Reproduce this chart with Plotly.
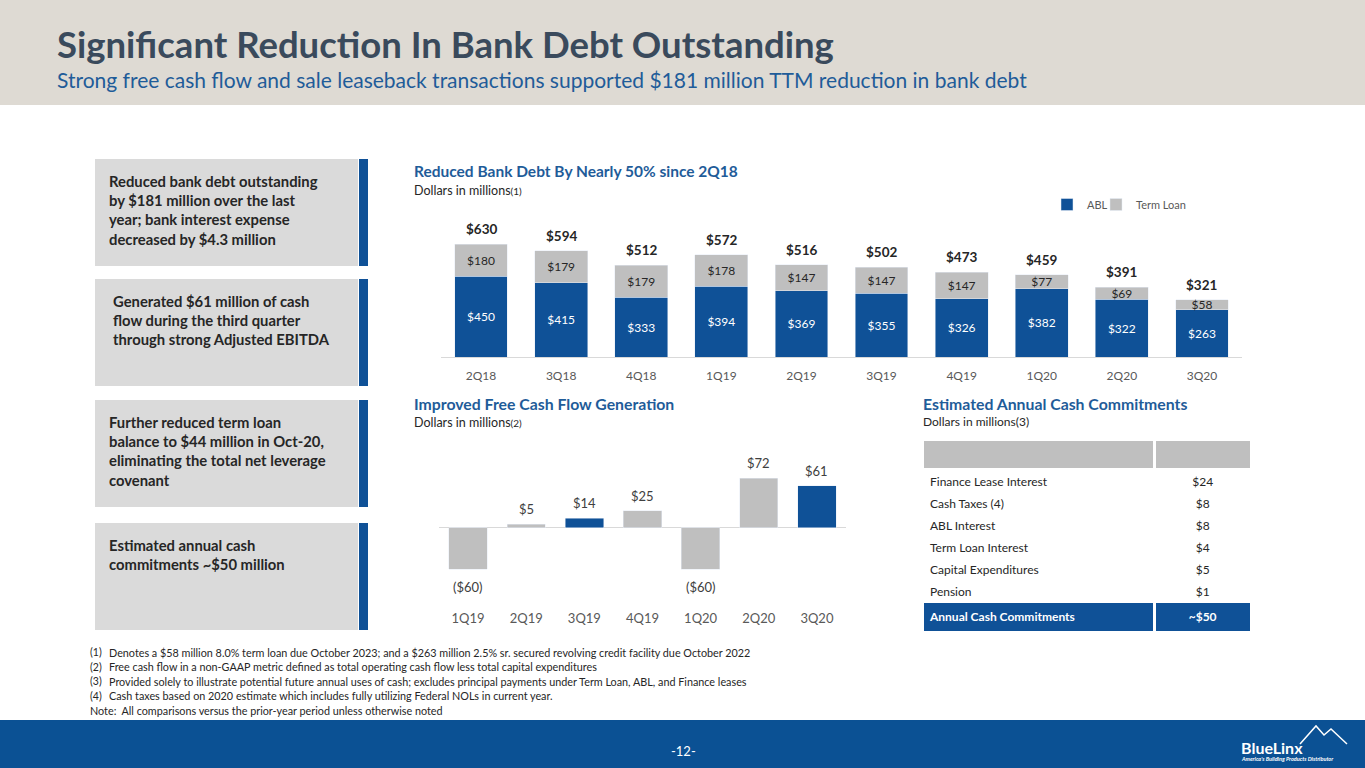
import plotly.graph_objects as go

W, H = 1365, 768

# Reduced bank debt (stacked)
quarters = ['2Q18', '3Q18', '4Q18', '1Q19', '2Q19', '3Q19', '4Q19', '1Q20', '2Q20', '3Q20']
abl = [450, 415, 333, 394, 369, 355, 326, 382, 322, 263]
term_loan = [180, 179, 179, 178, 147, 147, 147, 77, 69, 58]
totals = [630, 594, 512, 572, 516, 502, 473, 459, 391, 321]

# Free cash flow
fcf_quarters = ['1Q19', '2Q19', '3Q19', '4Q19', '1Q20', '2Q20', '3Q20']
fcf = [-60, 5, 14, 25, -60, 72, 61]
fcf_labels = ['($60)', '$5', '$14', '$25', '($60)', '$72', '$61']
fcf_highlight = ['3Q19', '3Q20']

# Annual cash commitments
commit_items = ['Finance Lease Interest', 'Cash Taxes (4)', 'ABL Interest',
                'Term Loan Interest', 'Capital Expenditures', 'Pension']
commit_values = ['$24', '$8', '$8', '$4', '$5', '$1']
commit_total_label = 'Annual Cash Commitments'
commit_total_value = '~$50'

# Left side call-outs
callouts = [
    'Reduced bank debt outstanding<br>by $181 million over the last<br>year; bank interest expense<br>decreased by $4.3 million',
    'Generated $61 million of cash<br>flow during the third quarter<br>through strong Adjusted EBITDA',
    'Further reduced term loan<br>balance to $44 million in Oct-20,<br>eliminating the total net leverage<br>covenant',
    'Estimated annual cash<br>commitments ~$50 million',
]

footnotes = [
    ('(1)', 'Denotes a $58 million 8.0% term loan due October 2023; and a $263 million 2.5% sr. secured revolving credit facility due October 2022'),
    ('(2)', 'Free cash flow in a non-GAAP metric defined as total operating cash flow less total capital expenditures'),
    ('(3)', 'Provided solely to illustrate potential future annual uses of cash; excludes principal payments under Term Loan, ABL, and Finance leases'),
    ('(4)', 'Cash taxes based on 2020 estimate which includes fully utilizing Federal NOLs in current year.'),
]
note = 'Note:  All comparisons versus the prior-year period unless otherwise noted'

BLUE = '#0f5197'
GRAY = '#bfbfbf'
DARK = '#262626'
MID = '#595959'
TITLE_BLUE = '#1f5c99'
FONT = 'Lato'


def px(v):
    return v / W


def py(v):
    return 1 - v / H


fig = go.Figure()

# stacked bars
fig.add_trace(go.Bar(x=quarters, y=abl, name='ABL', marker_color=BLUE,
                     text=['$%d' % v for v in abl], textposition='inside',
                     insidetextanchor='middle', constraintext='none',
                     textfont=dict(color='white', size=12, family=FONT),
                     xaxis='x', yaxis='y', legend='legend'))
fig.add_trace(go.Bar(x=quarters, y=term_loan, name='Term Loan', marker_color=GRAY,
                     text=['$%d' % v for v in term_loan], textposition='inside',
                     insidetextanchor='middle', constraintext='none',
                     textfont=dict(color=DARK, size=12, family=FONT),
                     xaxis='x', yaxis='y', legend='legend2'))

# free cash flow bars
fig.add_trace(go.Bar(x=fcf_quarters, y=fcf, showlegend=False,
                     marker_color=[BLUE if q in fcf_highlight else GRAY for q in fcf_quarters],
                     xaxis='x2', yaxis='y2'))

# cash commitments table
n = len(commit_items)
fig.add_trace(go.Table(
    domain=dict(x=[px(922), px(1252)], y=[py(640), py(439)]),
    columnwidth=[233, 97],
    header=dict(values=['', ''], fill_color=GRAY, height=30,
                line=dict(color='white', width=3)),
    cells=dict(values=[commit_items + ['<b>%s</b>' % commit_total_label],
                       commit_values + ['<b>%s</b>' % commit_total_value]],
               fill_color=[['white'] * n + [BLUE]] * 2,
               line=dict(color='white', width=3),
               align=['left', 'center'], height=22,
               font=dict(family=FONT, size=12,
                         color=[[DARK] * n + ['white']] * 2)),
))

# totals above stacked bars
annotations = []
for q, t in zip(quarters, totals):
    annotations.append(dict(x=q, y=t, xref='x', yref='y', text='<b>$%d</b>' % t,
                            showarrow=False, yanchor='bottom', yshift=5,
                            font=dict(size=13.5, color=DARK, family=FONT)))
# free cash flow value labels
for q, v, lab in zip(fcf_quarters, fcf, fcf_labels):
    annotations.append(dict(x=q, y=v, xref='x2', yref='y2', text=lab, showarrow=False,
                            yanchor='bottom' if v >= 0 else 'top',
                            yshift=5 if v >= 0 else -8,
                            font=dict(size=13, color='#404040', family=FONT)))
n_data_ann = len(annotations)

# headings
annotations += [
    dict(x=px(55), y=py(44), text='<b>Significant Reduction In Bank Debt Outstanding</b>',
         font=dict(size=36.5, color='#3a4a5c', family=FONT)),
    dict(x=px(55), y=py(80), text='Strong free cash flow and sale leaseback transactions supported $181 million TTM reduction in bank debt',
         font=dict(size=21, color=TITLE_BLUE, family=FONT)),
    dict(x=px(412), y=py(171), text='<b>Reduced Bank Debt By Nearly 50% since 2Q18</b>',
         font=dict(size=15.5, color=TITLE_BLUE, family=FONT)),
    dict(x=px(412), y=py(190), text="Dollars in millions<span style='font-size:10px'>(1)</span>",
         font=dict(size=12.5, color=DARK, family=FONT)),
    dict(x=px(412), y=py(403), text='<b>Improved Free Cash Flow Generation</b>',
         font=dict(size=15.8, color=TITLE_BLUE, family=FONT)),
    dict(x=px(412), y=py(422), text="Dollars in millions<span style='font-size:10px'>(2)</span>",
         font=dict(size=12.5, color=DARK, family=FONT)),
    dict(x=px(921), y=py(403), text='<b>Estimated Annual Cash Commitments</b>',
         font=dict(size=15.8, color=TITLE_BLUE, family=FONT)),
    dict(x=px(921), y=py(421), text='Dollars in millions(3)',
         font=dict(size=12, color=DARK, family=FONT)),
]
for a in annotations[n_data_ann:]:
    a.update(xref='paper', yref='paper', xanchor='left', yanchor='middle', showarrow=False)

# call-out boxes
shapes = [
    dict(type='rect', xref='paper', yref='paper', x0=0, x1=1, y0=py(105), y1=1,
         fillcolor='#dedad3', line_width=0, layer='below'),
    dict(type='rect', xref='paper', yref='paper', x0=0, x1=1, y0=0, y1=py(720),
         fillcolor='#0b5194', line_width=0, layer='below'),
]
box_tops = [159, 279, 400, 523]
text_x = [107, 111, 107, 107]
for top, tx, txt in zip(box_tops, text_x, callouts):
    shapes.append(dict(type='rect', xref='paper', yref='paper', x0=px(95), x1=px(358),
                       y0=py(top + 107), y1=py(top), fillcolor='#dadada', line_width=0,
                       layer='below'))
    shapes.append(dict(type='rect', xref='paper', yref='paper', x0=px(359), x1=px(368),
                       y0=py(top + 107), y1=py(top), fillcolor=BLUE, line_width=0,
                       layer='below'))
    annotations.append(dict(x=px(tx), y=py(top + 11), xref='paper', yref='paper',
                            xanchor='left', yanchor='top', align='left', showarrow=False,
                            text='<b>%s</b>' % txt,
                            font=dict(size=14.8, color=DARK, family=FONT)))

# footnotes
for i, (num, txt) in enumerate(footnotes):
    yy = py(652 + i * 14.5)
    annotations.append(dict(x=px(88), y=yy, xref='paper', yref='paper', xanchor='left',
                            yanchor='middle', showarrow=False, text=num,
                            font=dict(size=10.5, color=DARK, family=FONT)))
    annotations.append(dict(x=px(107), y=yy, xref='paper', yref='paper', xanchor='left',
                            yanchor='middle', showarrow=False, text=txt,
                            font=dict(size=10.8, color=DARK, family=FONT)))
annotations.append(dict(x=px(88), y=py(710), xref='paper', yref='paper', xanchor='left',
                        yanchor='middle', showarrow=False, text=note,
                        font=dict(size=10.8, color=DARK, family=FONT)))

# footer
annotations += [
    dict(x=px(683), y=py(751), text='-12-', font=dict(size=13, color='white', family=FONT)),
    dict(x=px(1272), y=py(747), text='<b>BlueLinx</b>', font=dict(size=16, color='white', family=FONT)),
    dict(x=px(1287), y=py(759), text="<b><i>America's Building Products Distributor</i></b>",
         font=dict(size=5.5, color='white', family=FONT)),
]
for a in annotations[-3:]:
    a.update(xref='paper', yref='paper', xanchor='center', yanchor='middle', showarrow=False)

# logo mountains
shapes.append(dict(type='path', xref='paper', yref='paper',
                   path='M %f %f L %f %f L %f %f L %f %f L %f %f' % (
                       px(1300), py(744), px(1316), py(726), px(1324), py(735),
                       px(1331), py(729), px(1347), py(744)),
                   line=dict(color='white', width=1.5)))

legend_style = dict(orientation='h', y=py(190), xanchor='left', yanchor='top',
                    font=dict(size=11, color=MID, family=FONT),
                    itemwidth=30, bgcolor='rgba(0,0,0,0)')

fig.update_layout(
    width=W, height=H, autosize=False,
    margin=dict(l=0, r=0, t=0, b=0),
    paper_bgcolor='white', plot_bgcolor='rgba(0,0,0,0)',
    font=dict(family=FONT, color=DARK),
    barmode='stack',
    showlegend=True,
    legend=dict(x=px(1047), **legend_style),
    legend2=dict(x=px(1096), **legend_style),
    xaxis=dict(domain=[px(441), px(1242)], showline=True, linecolor='#d9d9d9',
               linewidth=1, ticks='', showgrid=False, ticklabelstandoff=8,
               tickfont=dict(size=12, color=MID, family=FONT), fixedrange=True),
    yaxis=dict(domain=[py(357), py(200)], range=[0, 877], visible=False,
               showgrid=False, fixedrange=True),
    xaxis2=dict(domain=[px(439), px(846)], anchor='y2', showline=False, ticks='',
                showgrid=False, ticklabelstandoff=6,
                tickfont=dict(size=13, color=MID, family=FONT), fixedrange=True),
    yaxis2=dict(domain=[py(603), py(459)], anchor='x2', range=[-109, 100],
                showgrid=False, showticklabels=False, zeroline=True,
                zerolinecolor='#d9d9d9', zerolinewidth=1, fixedrange=True),
    bargap=0.34,
    annotations=annotations,
    shapes=shapes,
)

fig.write_html('out.html', config={'displayModeBar': False},
               post_script="document.body.style.margin='0';")
